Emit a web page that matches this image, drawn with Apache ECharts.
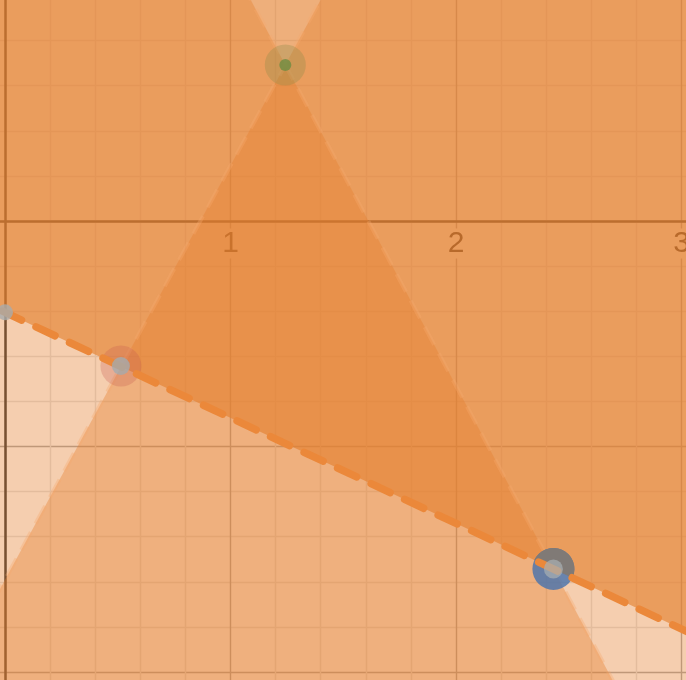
<!DOCTYPE html>
<html>
<head>
    <meta charset="UTF-8"/>
    <script src="https://cdn.jsdelivr.net/npm/echarts@6/dist/echarts.min.js"></script>
    <style>
        html, body {margin: 0; padding: 0; background: #fff;}
        #main {width: 686px; height: 680px;}
    </style>
</head>
<body>
<div id="main"></div>
<script type="text/javascript">
    // visible window of the graph (units)
    var xRange = [-0.2, 3.2];
    var yRange = [-2.2, 1.0];
    var gridStep = 0.2;

    // boundary lines y = slope * x + intercept
    var lineSlope = [-0.468, 1.837, -1.88];
    var lineIntercept = [-0.405, -1.591, 3.029];
    var shadeSide = ['above', 'below', 'below'];
    var shadeColor = ['rgba(228,128,46,0.63)', 'rgba(228,128,46,0.384)', 'rgba(228,128,46,0.384)'];

    // marked points
    var pointX = [1.243, 0.514, 2.432, 0];
    var pointY = [0.692, -0.643, -1.543, -0.405];

    function lineY(i, x) {
        return lineSlope[i] * x + lineIntercept[i];
    }

    // half-plane polygons, a bit larger than the window
    var farX = [xRange[0] - 1, xRange[1] + 1];
    var farY = [yRange[0] - 10, yRange[1] + 10];
    var shadePolys = [];
    for (var i = 0; i < lineSlope.length; i++) {
        var edgeY = shadeSide[i] == 'above' ? farY[1] : farY[0];
        shadePolys.push([
            [farX[0], lineY(i, farX[0])],
            [farX[1], lineY(i, farX[1])],
            [farX[1], edgeY],
            [farX[0], edgeY]
        ]);
    }
    function lineData(i) {
        return [[farX[0], lineY(i, farX[0])], [farX[1], lineY(i, farX[1])]];
    }

    var minorColor = '#e2e2e2', majorColor = '#a8a8a8';
    var splitColors = [minorColor, majorColor, minorColor, minorColor, minorColor];

    var myChart = echarts.init(document.getElementById('main'));
    var option = {
        backgroundColor: '#fff',
        animation: false,
        grid: [{
            left: -40.1, right: -40.6, top: -4.5, bottom: -37.1,
            containLabel: false, outerBoundsMode: 'none'
        }, {
            // only carries the x labels just under y = 0
            left: -40.1, right: -40.6, top: -4.5, height: 225.5,
            containLabel: false, outerBoundsMode: 'none'
        }],
        xAxis: [{
            type: 'value', min: xRange[0], max: xRange[1], interval: gridStep,
            axisLine: {onZero: true, lineStyle: {color: '#333', width: 2.5}},
            axisTick: {show: false},
            axisLabel: {show: false},
            splitLine: {show: true, lineStyle: {color: splitColors, width: 1.4}}
        }, {
            gridIndex: 1,
            type: 'value', min: xRange[0], max: xRange[1], interval: gridStep,
            axisLine: {show: false, onZero: false},
            axisTick: {show: false},
            splitLine: {show: false},
            axisLabel: {
                margin: 9,
                formatter: function (v) {
                    var r = Math.round(v);
                    if (Math.abs(v - r) < 1e-6 && r > 0) return '{a|' + r + '}';
                    return '';
                },
                rich: {
                    a: {
                        fontSize: 30, fontFamily: 'Liberation Sans, Arial, sans-serif',
                        color: '#222', backgroundColor: '#fff', lineHeight: 27, padding: [0, 3]
                    }
                }
            }
        }],
        yAxis: [{
            type: 'value', min: yRange[0], max: yRange[1], interval: gridStep,
            axisLine: {onZero: true, lineStyle: {color: '#333', width: 2.5}},
            axisTick: {show: false},
            axisLabel: {show: false},
            splitLine: {show: true, lineStyle: {color: splitColors, width: 1.4}}
        }, {
            gridIndex: 1, type: 'value', min: 0, max: 1, show: false
        }],
        series: [
            {
                // shaded regions
                type: 'custom',
                z: 2,
                silent: true,
                data: shadePolys.map(function (p, k) { return [k]; }),
                renderItem: function (params, api) {
                    var k = params.dataIndex;
                    var pts = shadePolys[k].map(function (p) { return api.coord(p); });
                    return {type: 'polygon', shape: {points: pts}, style: {fill: shadeColor[k]}};
                }
            },
            {
                type: 'line', z: 3, symbol: 'none', data: lineData(1),
                lineStyle: {color: 'rgba(245,168,110,0.35)', width: 4, type: [20, 10]}
            },
            {
                type: 'line', z: 3, symbol: 'none', data: lineData(2),
                lineStyle: {color: 'rgba(245,168,110,0.35)', width: 4, type: [20, 10]}
            },
            {
                // halos
                type: 'scatter', z: 4, symbolSize: 41,
                data: [
                    {value: [pointX[0], pointY[0]], itemStyle: {color: 'rgba(140,140,70,0.4)'}},
                    {value: [pointX[1], pointY[1]], itemStyle: {color: 'rgba(199,90,80,0.35)'}},
                    {value: [pointX[2], pointY[2]], symbolSize: 42, itemStyle: {color: '#4672ae'}}
                ]
            },
            {
                // grey half of the ring on point 3
                type: 'custom', z: 5, silent: true,
                data: [[pointX[2], pointY[2]]],
                renderItem: function (params, api) {
                    var c = api.coord([api.value(0), api.value(1)]);
                    var a = api.coord([0, lineY(0, 0)]);
                    var b = api.coord([3, lineY(0, 3)]);
                    var t = Math.atan2(b[1] - a[1], b[0] - a[0]);
                    return {
                        type: 'sector',
                        shape: {cx: c[0], cy: c[1], r0: 0, r: 21, startAngle: Math.PI + t, endAngle: 2 * Math.PI + t, clockwise: true},
                        style: {fill: '#807a76'}
                    };
                }
            },
            {
                type: 'line', z: 6, symbol: 'none', data: lineData(0),
                lineStyle: {color: '#eb883a', width: 7.5, type: [21, 16], cap: 'round'}
            },
            {
                type: 'scatter', z: 7,
                data: [
                    {value: [pointX[0], pointY[0]], symbolSize: 12, itemStyle: {color: '#6e8c41'}},
                    {value: [pointX[1], pointY[1]], symbolSize: 18, itemStyle: {color: '#a5aaac'}},
                    {value: [pointX[2], pointY[2]], symbolSize: 19, itemStyle: {color: 'rgba(168,174,178,0.9)'}},
                    {value: [pointX[3], pointY[3]], symbolSize: 16, itemStyle: {color: '#a9abab'}}
                ]
            }
        ]
    };
    myChart.setOption(option);
</script>
</body>
</html>
